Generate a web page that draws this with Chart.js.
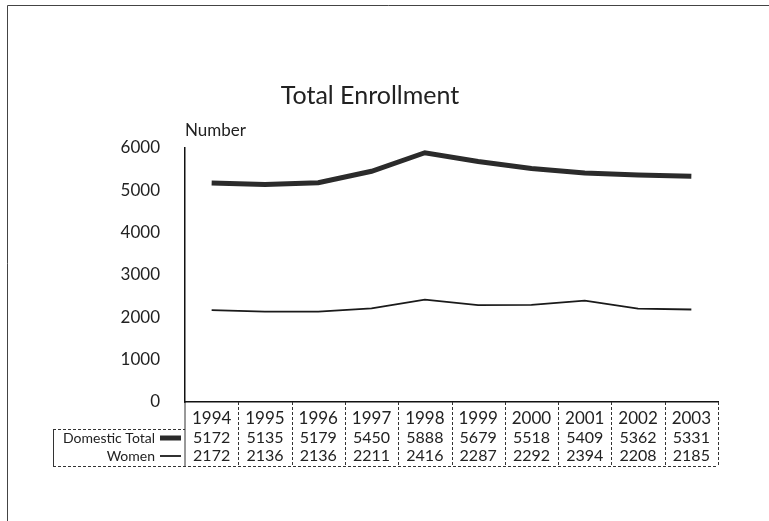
<!DOCTYPE html>
<html>
<head>
<meta charset="utf-8">
<script src="https://cdn.jsdelivr.net/npm/chart.js@4"></script>
<style>
  html, body { margin: 0; padding: 0; background: #fff; }
  #wrap { width: 769px; height: 521px; position: relative; }
</style>
</head>
<body>
<div id="wrap"><canvas id="myChart" width="769" height="521"></canvas></div>
<script>
'use strict';

let years = ['1994', '1995', '1996', '1997', '1998', '1999', '2000', '2001', '2002', '2003'];
let domesticTotal = [5172, 5135, 5179, 5450, 5888, 5679, 5518, 5409, 5362, 5331];
let women = [2172, 2136, 2136, 2211, 2416, 2287, 2292, 2394, 2208, 2185];
let seriesNames = ['Domestic Total', 'Women'];
let yMin = 0;
let yMax = 6000;
let yStep = 1000;

let fontName = 'Lato, "DejaVu Sans", sans-serif';
let textColor = '#222';

// draws the frame, title, axis caption and the data table under the plot
const tablePlugin = {
  id: 'tablePlugin',
  afterDraw(chart) {
    const ctx = chart.ctx;
    const x = chart.scales.x;
    const area = chart.chartArea;
    const half = (x.getPixelForValue(1) - x.getPixelForValue(0)) / 2;
    const rowY = [419, 438, 456];
    const tableTop = area.bottom;
    const labelTop = 429;
    const tableBottom = 466;
    const labelLeft = 53;

    ctx.save();

    // page frame (left and top edges)
    ctx.strokeStyle = '#444';
    ctx.lineWidth = 1;
    ctx.beginPath();
    ctx.moveTo(7.5, 521);
    ctx.lineTo(7.5, 5.5);
    ctx.lineTo(769, 5.5);
    ctx.stroke();

    ctx.fillStyle = textColor;
    ctx.font = '25px ' + fontName;
    ctx.textAlign = 'center';
    ctx.textBaseline = 'middle';
    ctx.fillText('Total Enrollment', 370, 96);

    ctx.font = '17px ' + fontName;
    ctx.textAlign = 'left';
    ctx.fillText('Number', 185, 131);

    // table grid
    ctx.strokeStyle = '#333';
    ctx.lineWidth = 1;
    ctx.setLineDash([3, 2]);
    for (let i = 0; i < years.length; i++) {
      let bx = Math.round(x.getPixelForValue(i) + half) + 0.5;
      ctx.beginPath();
      ctx.moveTo(bx, tableTop);
      ctx.lineTo(bx, tableBottom);
      ctx.stroke();
    }
    ctx.beginPath();
    ctx.moveTo(labelLeft, labelTop + 0.5);
    ctx.lineTo(area.left, labelTop + 0.5);
    ctx.moveTo(labelLeft, tableBottom + 0.5);
    ctx.lineTo(area.right, tableBottom + 0.5);
    ctx.stroke();
    ctx.setLineDash([]);
    ctx.beginPath();
    ctx.moveTo(labelLeft + 0.5, labelTop);
    ctx.lineTo(labelLeft + 0.5, tableBottom);
    ctx.moveTo(area.left, tableTop);
    ctx.lineTo(area.left, tableBottom);
    ctx.stroke();

    // cell texts
    ctx.fillStyle = textColor;
    ctx.textAlign = 'center';
    ctx.font = '17px ' + fontName;
    years.forEach((yr, i) => ctx.fillText(yr, x.getPixelForValue(i), rowY[0]));
    chart.data.datasets.forEach((ds, r) => {
      ctx.textAlign = 'center';
      ctx.font = '16px ' + fontName;
      ds.data.forEach((v, i) => ctx.fillText(String(v), x.getPixelForValue(i), rowY[r + 1]));
      ctx.textAlign = 'right';
      ctx.font = '14px ' + fontName;
      ctx.fillText(ds.label, 155, rowY[r + 1]);
      ctx.strokeStyle = ds.borderColor;
      ctx.lineWidth = ds.borderWidth;
      ctx.beginPath();
      ctx.moveTo(160, rowY[r + 1]);
      ctx.lineTo(181, rowY[r + 1]);
      ctx.stroke();
    });

    ctx.restore();
  }
};

const ctx = document.getElementById('myChart');

let config = {
  type: 'line',
  data: {
    labels: years,
    datasets: [
      {
        label: seriesNames[0],
        data: domesticTotal,
        borderColor: '#2b2b2b',
        borderWidth: 5,
        pointRadius: 0,
        tension: 0
      },
      {
        label: seriesNames[1],
        data: women,
        borderColor: '#1a1a1a',
        borderWidth: 1.8,
        pointRadius: 0,
        tension: 0
      }
    ]
  },
  options: {
    responsive: false,
    animation: false,
    layout: {
      padding: { top: 148, bottom: 119, right: 51, left: 0 }
    },
    plugins: {
      legend: { display: false },
      title: { display: false },
      tooltip: { enabled: false }
    },
    scales: {
      x: {
        offset: true,
        grid: { display: false },
        ticks: { display: false },
        border: { display: true, color: '#111', width: 1.5 },
        afterFit(scale) { scale.height = 0; }
      },
      y: {
        min: yMin,
        max: yMax,
        grid: { display: false },
        border: { display: true, color: '#111', width: 1.5 },
        ticks: {
          stepSize: yStep,
          padding: 17,
          color: textColor,
          font: { family: fontName, size: 17 },
          callback: (v) => String(v)
        },
        afterFit(scale) { scale.width = 185; }
      }
    }
  },
  plugins: [tablePlugin]
};

new Chart(ctx, config);
</script>
</body>
</html>
